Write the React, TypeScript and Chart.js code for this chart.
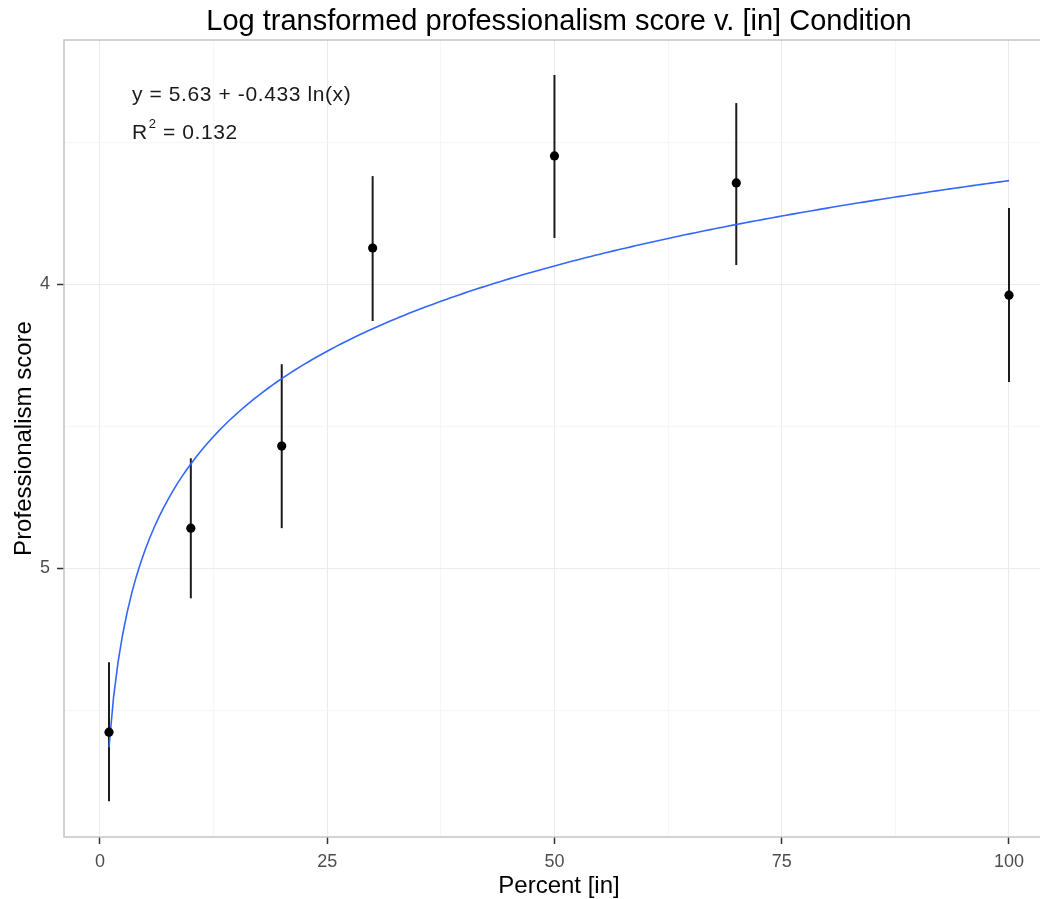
import React, { useEffect, useRef } from "react";
import { Chart, registerables } from "chart.js";

Chart.register(...registerables);

// ---- data ----
const percentIn = [1, 10, 20, 30, 50, 70, 100];
const meanScore = [5.577, 4.859, 4.57, 3.873, 3.549, 3.644, 4.039];
const barLow = [5.331, 4.613, 4.282, 3.62, 3.264, 3.363, 3.732];
const barHigh = [5.82, 5.106, 4.859, 4.13, 3.838, 3.933, 4.345];

// fitted log model shown on the chart: y = a + b ln(x)
const fitIntercept = 5.63;
const fitSlope = -0.433;
const rSquared = 0.132;
const fitRange = [1, 100];

const xMajorTicks = [0, 25, 50, 75, 100];
const xMinorTicks = [12.5, 37.5, 62.5, 87.5];
const yMajorTicks = [4, 5];
const yMinorTicks = [3.5, 4.5, 5.5];

const titleText = "Log transformed professionalism score v. [in] Condition";
const xTitle = "Percent [in]";
const yTitle = "Professionalism score";

const FONT = "'Liberation Sans', Arial, Helvetica, sans-serif";

export default function App() {
  const ref = useRef<HTMLCanvasElement | null>(null);

  useEffect(() => {
    const canvas = ref.current;
    if (!canvas) return;

    const fitPts: { x: number; y: number }[] = [];
    for (let x = fitRange[0]; x <= fitRange[1] + 1e-9; x += 0.5) {
      fitPts.push({ x, y: fitIntercept + fitSlope * Math.log(x) });
    }

    const extras = {
      id: "extras",
      beforeDatasetsDraw(chart: any) {
        const ctx = chart.ctx;
        const xs = chart.scales.x;
        const ys = chart.scales.y;
        ctx.save();
        ctx.strokeStyle = "#1c1c1c";
        ctx.lineWidth = 2;
        ctx.lineCap = "butt";
        for (let i = 0; i < percentIn.length; i++) {
          const px = xs.getPixelForValue(percentIn[i]);
          ctx.beginPath();
          ctx.moveTo(px, ys.getPixelForValue(barLow[i]));
          ctx.lineTo(px, ys.getPixelForValue(barHigh[i]));
          ctx.stroke();
        }
        ctx.restore();
      },
      afterDatasetsDraw(chart: any) {
        const ctx = chart.ctx;
        const a = chart.chartArea;
        ctx.save();
        // panel border
        ctx.strokeStyle = "#c4c4c4";
        ctx.lineWidth = 1.5;
        ctx.strokeRect(a.left, a.top, a.right - a.left, a.bottom - a.top);

        // annotation
        ctx.fillStyle = "#1a1a1a";
        ctx.textBaseline = "alphabetic";
        ctx.textAlign = "left";
        (ctx as any).letterSpacing = "0.6px";
        ctx.font = `21px ${FONT}`;
        const tx = a.left + 68;
        ctx.fillText(`y = ${fitIntercept} + ${fitSlope} ln(x)`, tx, a.top + 61);
        const ry = a.top + 99;
        ctx.fillText("R", tx, ry);
        const rw = ctx.measureText("R").width;
        ctx.font = `13px ${FONT}`;
        ctx.fillText("2", tx + rw + 1, ry - 11);
        const sw = ctx.measureText("2").width;
        ctx.font = `21px ${FONT}`;
        ctx.fillText(` = ${rSquared}`, tx + rw + sw + 1, ry);
        (ctx as any).letterSpacing = "0px";

        // title
        ctx.fillStyle = "#000000";
        ctx.textAlign = "center";
        ctx.font = `29px ${FONT}`;
        ctx.fillText(titleText, (a.left + a.right) / 2, 30);
        ctx.restore();
      },
    };

    const isMajorX = (v: number) => xMajorTicks.includes(v);
    const isMajorY = (v: number) => yMajorTicks.includes(v);

    const chart = new Chart(canvas, {
      type: "scatter",
      data: {
        datasets: [
          {
            label: "means",
            data: percentIn.map((x, i) => ({ x, y: meanScore[i] })),
            pointRadius: 4.6,
            pointHoverRadius: 4.6,
            pointBackgroundColor: "#000000",
            pointBorderColor: "#000000",
            pointBorderWidth: 0,
            showLine: false,
          },
          {
            label: "fit",
            data: fitPts,
            showLine: true,
            borderColor: "#3366FF",
            borderWidth: 1.6,
            pointRadius: 0,
            pointHoverRadius: 0,
            tension: 0,
            fill: false,
          },
        ],
      },
      options: {
        animation: false,
        responsive: false,
        maintainAspectRatio: false,
        events: [],
        layout: { padding: { top: 40, right: 16, bottom: 0, left: 0 } },
        plugins: {
          legend: { display: false },
          title: { display: false },
          tooltip: { enabled: false },
        },
        scales: {
          x: {
            type: "linear",
            min: -3.95,
            max: 104.95,
            afterBuildTicks: (scale: any) => {
              scale.ticks = [...xMajorTicks, ...xMinorTicks]
                .sort((p, q) => p - q)
                .map((v) => ({ value: v }));
            },
            afterFit: (scale: any) => {
              scale.height = 62;
            },
            ticks: {
              autoSkip: false,
              maxRotation: 0,
              padding: 7,
              color: "#4d4d4d",
              font: { family: FONT, size: 18 },
              callback: (v: any) => (isMajorX(Number(v)) ? String(v) : ""),
            },
            grid: {
              color: (c: any) => (isMajorX(c.tick?.value) ? "#ebebeb" : "#f6f6f6"),
              lineWidth: 1,
              tickLength: 7,
              tickColor: (c: any) => (isMajorX(c.tick?.value) ? "#333333" : "rgba(0,0,0,0)"),
              tickWidth: 1.5,
            },
            border: { display: false },
            title: {
              display: true,
              text: xTitle,
              color: "#000000",
              font: { family: FONT, size: 24, lineHeight: 1 },
              padding: { top: 0, bottom: 1 },
            },
          },
          y: {
            type: "linear",
            reverse: true,
            min: 3.141,
            max: 5.946,
            afterBuildTicks: (scale: any) => {
              scale.ticks = [...yMajorTicks, ...yMinorTicks]
                .sort((p, q) => p - q)
                .map((v) => ({ value: v }));
            },
            afterFit: (scale: any) => {
              scale.width = 64;
            },
            ticks: {
              autoSkip: false,
              padding: 7,
              color: "#4d4d4d",
              font: { family: FONT, size: 18 },
              callback: (v: any) => (isMajorY(Number(v)) ? String(v) : ""),
            },
            grid: {
              color: (c: any) => (isMajorY(c.tick?.value) ? "#ebebeb" : "#f6f6f6"),
              lineWidth: 1,
              tickLength: 7,
              tickColor: (c: any) => (isMajorY(c.tick?.value) ? "#333333" : "rgba(0,0,0,0)"),
              tickWidth: 1.5,
            },
            border: { display: false },
            title: {
              display: true,
              text: yTitle,
              color: "#000000",
              font: { family: FONT, size: 24, lineHeight: 1 },
              padding: { top: 12, bottom: 0 },
            },
          },
        },
      },
      plugins: [extras],
    } as any);

    return () => chart.destroy();
  }, []);

  return (
    <div
      style={{
        position: "fixed",
        left: 0,
        top: 0,
        width: 1040,
        height: 899,
        overflow: "hidden",
        background: "#ffffff",
      }}
    >
      <canvas ref={ref} width={1070} height={899} style={{ display: "block" }} />
    </div>
  );
}
